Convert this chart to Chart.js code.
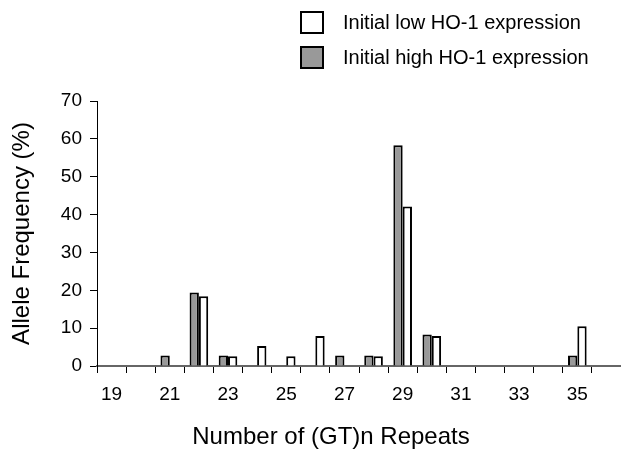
<!DOCTYPE html>
<html>
<head>
<meta charset="utf-8">
<script src="https://cdn.jsdelivr.net/npm/chart.js@4/dist/chart.umd.min.js"></script>
<style>
  html, body { margin: 0; padding: 0; background: #fff; }
  #wrap { width: 621px; height: 450px; position: relative; }
</style>
</head>
<body>
<div id="wrap"><canvas id="c" width="621" height="450"></canvas></div>
<script>
// ---- data ----
const categories = ['19','20','21','22','23','24','25','26','27','28','29','30','31','32','33','34','35','36'];
const highHO1 = [0, 0, 2.8, 19.4, 2.8, 0, 0, 0, 2.8, 2.8, 58.3, 8.3, 0, 0, 0, 0, 2.8, 0];
const lowHO1  = [0, 0, 0, 18.4, 2.6, 5.3, 2.6, 7.9, 0, 2.6, 42.1, 7.9, 0, 0, 0, 0, 10.5, 0];
const xTickLabels = ['19','21','23','25','27','29','31','33','35'];
const yTicks = [0, 10, 20, 30, 40, 50, 60, 70];
const seriesNames = ['Initial high HO-1 expression', 'Initial low HO-1 expression'];
const xTitle = 'Number of (GT)n Repeats';
const yTitle = 'Allele Frequency (%)';

const FONT = '"Liberation Sans", Arial, Helvetica, sans-serif';
const GRAY = '#999999';

const legendPlugin = {
  id: 'customLegend',
  afterDraw(chart) {
    const ctx = chart.ctx;
    const items = [
      { label: seriesNames[1], fill: '#ffffff', y: 12 },
      { label: seriesNames[0], fill: GRAY, y: 47 }
    ];
    ctx.save();
    ctx.font = '20px ' + FONT;
    ctx.textBaseline = 'middle';
    ctx.textAlign = 'left';
    items.forEach(it => {
      ctx.fillStyle = it.fill;
      ctx.fillRect(301, it.y, 22, 21);
      ctx.lineWidth = 2;
      ctx.strokeStyle = '#000';
      ctx.strokeRect(301, it.y, 22, 21);
      ctx.fillStyle = '#000';
      ctx.fillText(it.label, 343, it.y + 11.5);
    });
    // x axis title, centred under the labelled range as in the original
    ctx.font = '24px ' + FONT;
    ctx.textAlign = 'center';
    ctx.fillText(xTitle, 331, 437);
    ctx.restore();
  }
};

new Chart(document.getElementById('c'), {
  type: 'bar',
  data: {
    labels: categories,
    datasets: [
      { label: seriesNames[0], data: highHO1, backgroundColor: GRAY, borderColor: '#000',
        borderWidth: ctx => (ctx.raw ? 2 : 0) },
      { label: seriesNames[1], data: lowHO1, backgroundColor: '#ffffff', borderColor: '#000',
        borderWidth: ctx => (ctx.raw ? 2 : 0) }
    ]
  },
  options: {
    responsive: false,
    animation: false,
    devicePixelRatio: 1,
    categoryPercentage: 0.64,
    barPercentage: 1.0,
    layout: { padding: { top: 101, right: 0, left: 0, bottom: 0 } },
    plugins: { legend: { display: false }, tooltip: { enabled: false } },
    scales: {
      x: {
        grid: { display: true, offset: true, drawOnChartArea: false, drawTicks: true, tickLength: 7, color: '#000', lineWidth: 1 },
        border: { display: true, color: '#666', width: 2 },
        ticks: {
          autoSkip: false, maxRotation: 0, padding: 10, color: '#000',
          font: { family: FONT, size: 19 },
          callback: function(v, i) { const c = categories[i]; return xTickLabels.includes(c) ? c : ''; }
        },
        title: { display: false },
        afterFit(scale) { scale.height = 84; }
      },
      y: {
        min: 0, max: 70,
        afterBuildTicks(scale) { scale.ticks = yTicks.map(v => ({ value: v })); },
        grid: { display: true, drawOnChartArea: false, drawTicks: true, tickLength: 7, color: '#000', lineWidth: 1 },
        border: { display: true, color: '#000', width: 1 },
        ticks: { padding: 8, color: '#000', font: { family: FONT, size: 19 } },
        title: { display: true, text: yTitle, color: '#000',
                 font: { family: FONT, size: 24, lineHeight: 1.2 }, padding: { top: 8, bottom: 0 } },
        afterFit(scale) { scale.width = 97; }
      }
    }
  },
  plugins: [legendPlugin]
});
</script>
</body>
</html>
